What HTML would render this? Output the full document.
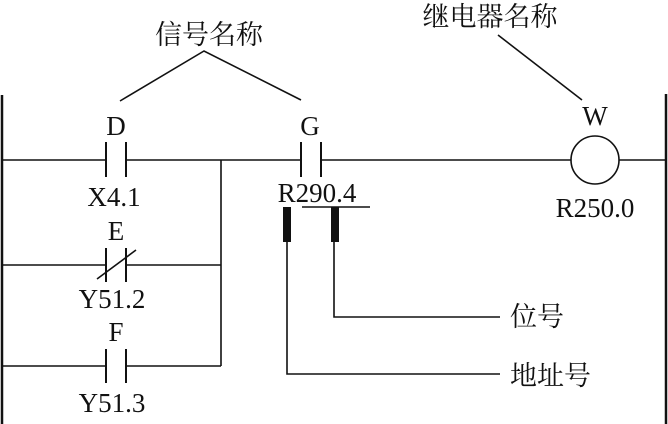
<!DOCTYPE html>
<html><head><meta charset="utf-8"><style>
html,body{margin:0;padding:0;background:#fff;}
svg{display:block;}
text{font-family:"Liberation Serif",serif;font-size:27px;fill:#111;}
.c{font-family:"Liberation Serif","Noto Serif CJK SC","Noto Sans CJK SC",serif;font-size:27px;}
</style></head><body>
<svg width="668" height="424" viewBox="0 0 668 424" xmlns="http://www.w3.org/2000/svg">
<g stroke="#111" stroke-width="1.6" fill="none">
<line x1="2" y1="95" x2="2" y2="424" stroke-width="2.5"/>
<line x1="666" y1="94" x2="666" y2="424" stroke-width="2.5"/>
<line x1="2" y1="160" x2="106" y2="160"/>
<line x1="126" y1="160" x2="301" y2="160"/>
<line x1="321" y1="160" x2="571" y2="160"/>
<line x1="619" y1="160" x2="666" y2="160"/>
<line x1="106" y1="142" x2="106" y2="177" stroke-width="2"/>
<line x1="126" y1="142" x2="126" y2="177" stroke-width="2"/>
<line x1="301" y1="142" x2="301" y2="177" stroke-width="2"/>
<line x1="321" y1="142" x2="321" y2="177" stroke-width="2"/>
<line x1="221" y1="160" x2="221" y2="366"/>
<line x1="2" y1="265" x2="106" y2="265"/>
<line x1="126" y1="265" x2="221" y2="265"/>
<line x1="106" y1="248" x2="106" y2="282" stroke-width="2"/>
<line x1="126" y1="248" x2="126" y2="282" stroke-width="2"/>
<line x1="97" y1="279" x2="136" y2="250"/>
<line x1="2" y1="366" x2="106" y2="366"/>
<line x1="126" y1="366" x2="221" y2="366"/>
<line x1="106" y1="349" x2="106" y2="383" stroke-width="2"/>
<line x1="126" y1="349" x2="126" y2="383" stroke-width="2"/>
<circle cx="595" cy="160" r="24"/>
<polyline points="120,101 204,51 301,100"/>
<line x1="498" y1="35" x2="582" y2="100"/>
<line x1="302" y1="207" x2="370" y2="207"/>
<polyline points="334,240 334,317 500,317"/>
<polyline points="287,240 287,374 500,374"/>
</g>
<rect x="283" y="207" width="8" height="35" fill="#111"/>
<rect x="331" y="207" width="8" height="35" fill="#111"/>
<text x="116" y="135" text-anchor="middle">D</text>
<text x="114" y="206" text-anchor="middle">X4.1</text>
<text x="116" y="240" text-anchor="middle">E</text>
<text x="112" y="308" text-anchor="middle">Y51.2</text>
<text x="116" y="341" text-anchor="middle">F</text>
<text x="112" y="412" text-anchor="middle">Y51.3</text>
<text x="310" y="135" text-anchor="middle">G</text>
<text x="317" y="202" text-anchor="middle">R290.4</text>
<text x="595" y="125" text-anchor="middle">W</text>
<text x="595" y="217" text-anchor="middle">R250.0</text>
<text class="c" x="209" y="44" text-anchor="middle">信号名称</text>
<text class="c" x="490" y="26" text-anchor="middle">继电器名称</text>
<text class="c" x="510" y="326">位号</text>
<text class="c" x="510" y="385">地址号</text>
</svg>
</body></html>
